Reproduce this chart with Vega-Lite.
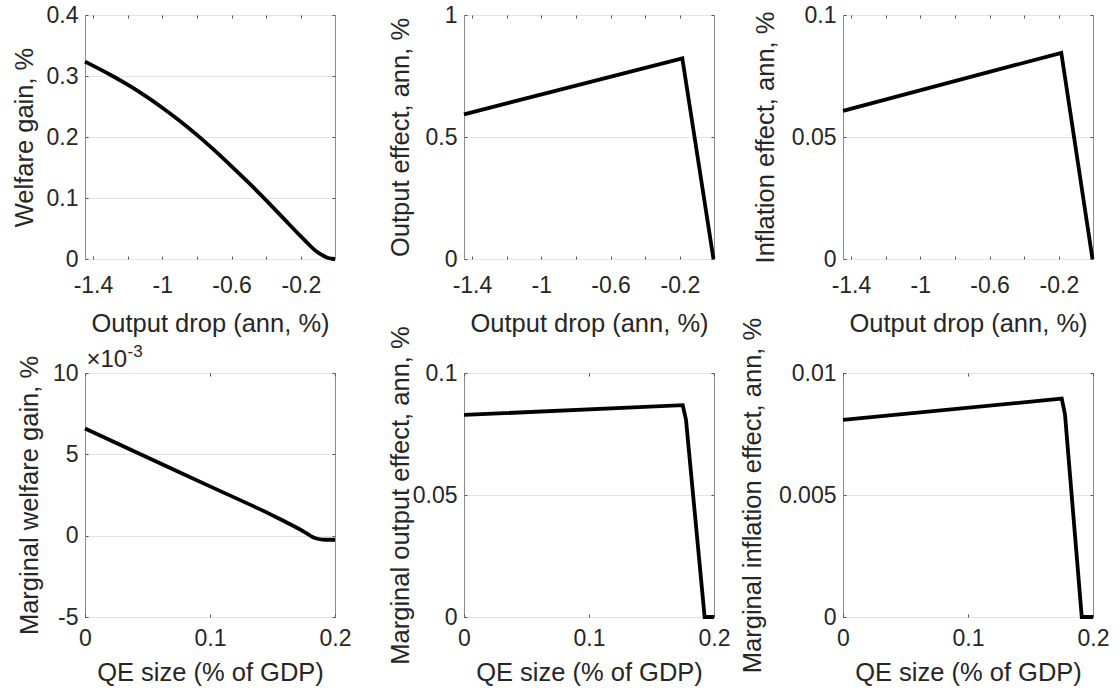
{
  "$schema": "https://vega.github.io/schema/vega-lite/v6.json",
  "padding": {"left": 11, "top": 3, "right": 0, "bottom": 0},
  "background": "white",
  "datasets": {
    "p1": [
      {"x": -1.446, "y": 0.3236}, {"x": -1.3, "y": 0.302}, {"x": -1.2, "y": 0.2857}, {"x": -1.1, "y": 0.2677},
      {"x": -1.0, "y": 0.248}, {"x": -0.9, "y": 0.2267}, {"x": -0.8, "y": 0.2035}, {"x": -0.7, "y": 0.1785},
      {"x": -0.6, "y": 0.152}, {"x": -0.5, "y": 0.1247}, {"x": -0.4, "y": 0.096}, {"x": -0.3, "y": 0.0665},
      {"x": -0.2, "y": 0.037}, {"x": -0.16, "y": 0.0256}, {"x": -0.123, "y": 0.0154}, {"x": -0.1, "y": 0.0104},
      {"x": -0.08, "y": 0.0070}, {"x": -0.065, "y": 0.0046}, {"x": -0.05, "y": 0.0026}, {"x": -0.035, "y": 0.0012},
      {"x": -0.02, "y": 0.0004}, {"x": -0.003, "y": 0}
    ],
    "p2": [{"x": -1.446, "y": 0.593}, {"x": -0.186, "y": 0.8225}, {"x": -0.006, "y": 0}],
    "p3": [{"x": -1.446, "y": 0.0607}, {"x": -0.186, "y": 0.0845}, {"x": -0.006, "y": 0}],
    "p4": [
      {"x": 0, "y": 0.00659}, {"x": 0.05, "y": 0.00481}, {"x": 0.1, "y": 0.00303}, {"x": 0.15, "y": 0.00125},
      {"x": 0.165, "y": 0.00067}, {"x": 0.173, "y": 0.00034}, {"x": 0.178, "y": 0.00011}, {"x": 0.182, "y": -0.00008},
      {"x": 0.186, "y": -0.00019}, {"x": 0.19, "y": -0.00024}, {"x": 0.195, "y": -0.00025}, {"x": 0.2, "y": -0.00025}
    ],
    "p5": [{"x": 0, "y": 0.0828}, {"x": 0.175, "y": 0.0868}, {"x": 0.1776, "y": 0.0808}, {"x": 0.1925, "y": 0}, {"x": 0.2, "y": 0}],
    "p6": [{"x": 0, "y": 0.00808}, {"x": 0.175, "y": 0.00895}, {"x": 0.1776, "y": 0.0083}, {"x": 0.191, "y": 0}, {"x": 0.2, "y": 0}]
  },
  "columns": 3,
  "spacing": {"row": 114, "column": 129},
  "bounds": "flush",
  "align": "all",
  "concat": [
    {
      "width": 250, "height": 244,
      "data": {"name": "p1"},
      "layer": [
        {"mark": {"type": "line", "color": "black", "strokeWidth": 3.8, "interpolate": "monotone"},
         "encoding": {
           "x": {"field": "x", "type": "quantitative", "scale": {"domain": [-1.446, -0.003], "nice": false, "zero": false},
                 "axis": {"values": [-1.4, -1.2, -1.0, -0.8, -0.6, -0.4, -0.2], "format": "~g", "labelExpr": "(round(datum.value*10) % 4 == 0) ? '' : datum.label", "title": "Output drop (ann, %)", "labelPadding": 18, "titleY": 52, "grid": false}},
           "y": {"field": "y", "type": "quantitative", "scale": {"domain": [0, 0.4], "nice": false},
                 "axis": {"values": [0, 0.1, 0.2, 0.3, 0.4], "format": "~g", "title": "Welfare gain, %", "titleX": -48, "grid": true}}
         }},
        {"mark": {"type": "line", "strokeOpacity": 0},
         "encoding": {
           "x": {"field": "x", "type": "quantitative", "axis": {"orient": "top", "values": [-1.4, -1.2, -1.0, -0.8, -0.6, -0.4, -0.2], "labels": false, "title": null, "grid": false}},
           "y": {"field": "y", "type": "quantitative", "axis": {"orient": "right", "values": [0, 0.1, 0.2, 0.3, 0.4], "labels": false, "title": null, "grid": false}}
         }}
      ],
      "resolve": {"axis": {"x": "independent", "y": "independent"}}
    },
    {
      "width": 250, "height": 244,
      "data": {"name": "p2"},
      "layer": [
        {"mark": {"type": "line", "color": "black", "strokeWidth": 3.8},
         "encoding": {
           "x": {"field": "x", "type": "quantitative", "scale": {"domain": [-1.446, -0.003], "nice": false, "zero": false},
                 "axis": {"values": [-1.4, -1.2, -1.0, -0.8, -0.6, -0.4, -0.2], "format": "~g", "labelExpr": "(round(datum.value*10) % 4 == 0) ? '' : datum.label", "title": "Output drop (ann, %)", "labelPadding": 18, "titleY": 52, "grid": false}},
           "y": {"field": "y", "type": "quantitative", "scale": {"domain": [0, 1], "nice": false},
                 "axis": {"values": [0, 0.5, 1], "format": "~g", "title": "Output effect, ann, %", "titleX": -51, "grid": true}}
         }},
        {"mark": {"type": "line", "strokeOpacity": 0},
         "encoding": {
           "x": {"field": "x", "type": "quantitative", "axis": {"orient": "top", "values": [-1.4, -1.2, -1.0, -0.8, -0.6, -0.4, -0.2], "labels": false, "title": null, "grid": false}},
           "y": {"field": "y", "type": "quantitative", "axis": {"orient": "right", "values": [0, 0.5, 1], "labels": false, "title": null, "grid": false}}
         }}
      ],
      "resolve": {"axis": {"x": "independent", "y": "independent"}}
    },
    {
      "width": 250, "height": 244,
      "data": {"name": "p3"},
      "layer": [
        {"mark": {"type": "line", "color": "black", "strokeWidth": 3.8},
         "encoding": {
           "x": {"field": "x", "type": "quantitative", "scale": {"domain": [-1.446, -0.003], "nice": false, "zero": false},
                 "axis": {"values": [-1.4, -1.2, -1.0, -0.8, -0.6, -0.4, -0.2], "format": "~g", "labelExpr": "(round(datum.value*10) % 4 == 0) ? '' : datum.label", "title": "Output drop (ann, %)", "labelPadding": 18, "titleY": 52, "grid": false}},
           "y": {"field": "y", "type": "quantitative", "scale": {"domain": [0, 0.1], "nice": false},
                 "axis": {"values": [0, 0.05, 0.1], "format": "~g", "title": "Inflation effect, ann, %", "titleX": -65, "grid": true}}
         }},
        {"mark": {"type": "line", "strokeOpacity": 0},
         "encoding": {
           "x": {"field": "x", "type": "quantitative", "axis": {"orient": "top", "values": [-1.4, -1.2, -1.0, -0.8, -0.6, -0.4, -0.2], "labels": false, "title": null, "grid": false}},
           "y": {"field": "y", "type": "quantitative", "axis": {"orient": "right", "values": [0, 0.05, 0.1], "labels": false, "title": null, "grid": false}}
         }}
      ],
      "resolve": {"axis": {"x": "independent", "y": "independent"}}
    },
    {
      "width": 250, "height": 244,
      "data": {"name": "p4"},
      "layer": [
        {"mark": {"type": "line", "color": "black", "strokeWidth": 3.8, "interpolate": "monotone"},
         "encoding": {
           "x": {"field": "x", "type": "quantitative", "scale": {"domain": [0, 0.2], "nice": false, "zero": false},
                 "axis": {"values": [0, 0.1, 0.2], "format": "~g", "title": "QE size (% of GDP)", "labelPadding": 13, "titleY": 43, "grid": false}},
           "y": {"field": "y", "type": "quantitative", "scale": {"domain": [-0.005, 0.01], "nice": false},
                 "axis": {"values": [-0.005, 0, 0.005, 0.01], "labelExpr": "format(datum.value*1000, '~g')", "title": "Marginal welfare gain, %", "titleX": -43, "grid": true}}
         }},
        {"mark": {"type": "line", "strokeOpacity": 0},
         "encoding": {
           "x": {"field": "x", "type": "quantitative", "axis": {"orient": "top", "values": [0, 0.1, 0.2], "labels": false, "title": "×10", "titleX": 1, "titleY": -7, "titleAlign": "left", "titleBaseline": "alphabetic", "titleAngle": 0, "titleFontSize": 24, "grid": false}},
           "y": {"field": "y", "type": "quantitative", "axis": {"orient": "right", "values": [-0.005, 0, 0.005, 0.01], "labels": false, "title": "-3", "titleX": -208, "titleY": -17, "titleAlign": "left", "titleBaseline": "alphabetic", "titleAngle": 0, "titleFontSize": 17, "grid": false}}
         }}
      ],
      "resolve": {"axis": {"x": "independent", "y": "independent"}}
    },
    {
      "width": 250, "height": 244,
      "data": {"name": "p5"},
      "layer": [
        {"mark": {"type": "line", "color": "black", "strokeWidth": 3.8},
         "encoding": {
           "x": {"field": "x", "type": "quantitative", "scale": {"domain": [0, 0.2], "nice": false, "zero": false},
                 "axis": {"values": [0, 0.1, 0.2], "format": "~g", "title": "QE size (% of GDP)", "labelPadding": 13, "titleY": 43, "grid": false}},
           "y": {"field": "y", "type": "quantitative", "scale": {"domain": [0, 0.1], "nice": false},
                 "axis": {"values": [0, 0.05, 0.1], "format": "~g", "title": "Marginal output effect, ann, %", "titleX": -51, "grid": true}}
         }},
        {"mark": {"type": "line", "strokeOpacity": 0},
         "encoding": {
           "x": {"field": "x", "type": "quantitative", "axis": {"orient": "top", "values": [0, 0.1, 0.2], "labels": false, "title": null, "grid": false}},
           "y": {"field": "y", "type": "quantitative", "axis": {"orient": "right", "values": [0, 0.05, 0.1], "labels": false, "title": null, "grid": false}}
         }}
      ],
      "resolve": {"axis": {"x": "independent", "y": "independent"}}
    },
    {
      "width": 250, "height": 244,
      "data": {"name": "p6"},
      "layer": [
        {"mark": {"type": "line", "color": "black", "strokeWidth": 3.8},
         "encoding": {
           "x": {"field": "x", "type": "quantitative", "scale": {"domain": [0, 0.2], "nice": false, "zero": false},
                 "axis": {"values": [0, 0.1, 0.2], "format": "~g", "title": "QE size (% of GDP)", "labelPadding": 13, "titleY": 43, "grid": false}},
           "y": {"field": "y", "type": "quantitative", "scale": {"domain": [0, 0.01], "nice": false},
                 "axis": {"values": [0, 0.005, 0.01], "format": "~g", "title": "Marginal inflation effect, ann, %", "titleX": -78, "grid": true}}
         }},
        {"mark": {"type": "line", "strokeOpacity": 0},
         "encoding": {
           "x": {"field": "x", "type": "quantitative", "axis": {"orient": "top", "values": [0, 0.1, 0.2], "labels": false, "title": null, "grid": false}},
           "y": {"field": "y", "type": "quantitative", "axis": {"orient": "right", "values": [0, 0.005, 0.01], "labels": false, "title": null, "grid": false}}
         }}
      ],
      "resolve": {"axis": {"x": "independent", "y": "independent"}}
    }
  ],
  "config": {
    "locale": {"number": {"decimal": ".", "thousands": ",", "grouping": [3], "currency": ["$", ""], "minus": "-"}},
    "view": {"stroke": "#8c8c8c", "strokeWidth": 1},
    "axis": {
      "labelFont": "Liberation Sans", "labelFontSize": 23, "labelColor": "#262626",
      "titleFont": "Liberation Sans", "titleFontSize": 25.5, "titleFontWeight": "normal", "titleColor": "#262626",
      "tickSize": -3, "tickColor": "#555555", "domain": false, "gridColor": "#e3e3e3",
      "labelFlush": false, "labelOverlap": false, "labelBound": false
    },
    "axisX": {"titlePadding": 10},
    "axisY": {"labelPadding": 10}
  }
}
